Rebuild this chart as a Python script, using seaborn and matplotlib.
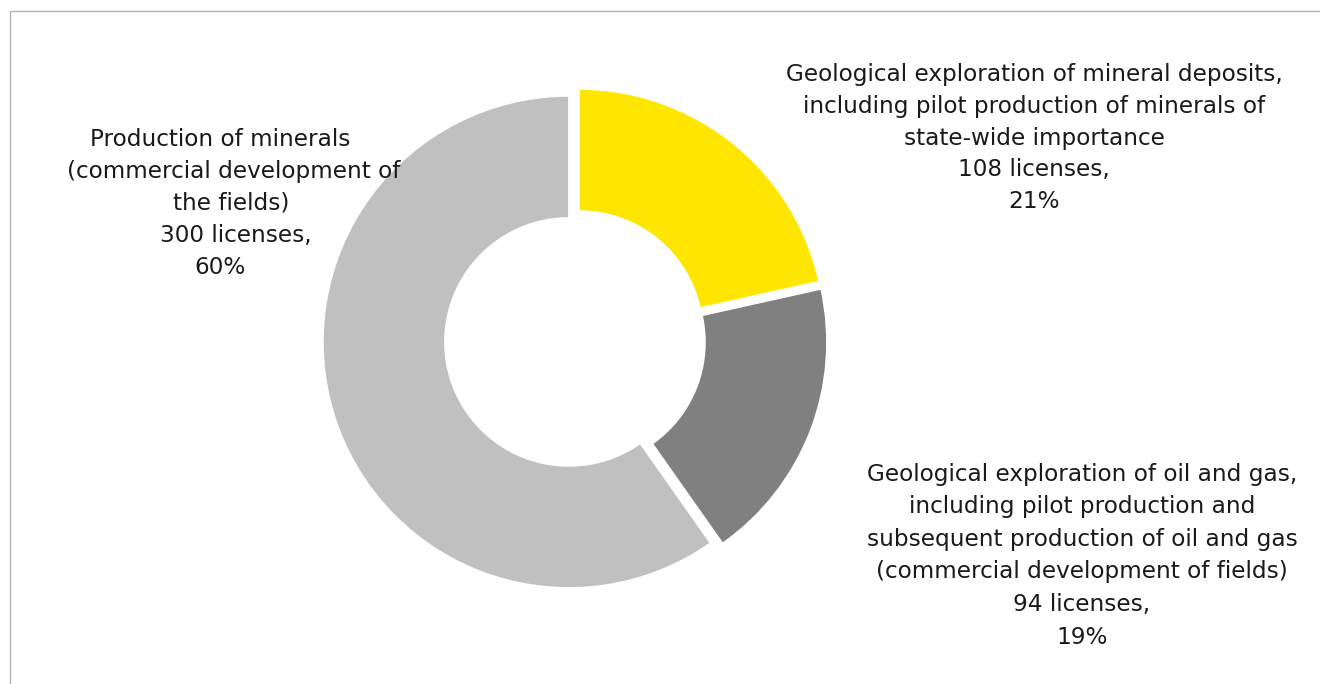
import matplotlib
matplotlib.use("Agg")
import matplotlib.pyplot as plt
from matplotlib.patches import Rectangle
import seaborn as sns

# ---- data ----
categories = [
    "Geological exploration of mineral deposits,\nincluding pilot production of minerals of\nstate-wide importance",
    "Geological exploration of oil and gas,\nincluding pilot production and\nsubsequent production of oil and gas\n(commercial development of fields)",
    "Production of minerals\n(commercial development of\nthe fields)",
]
licenses = [108, 94, 300]
percents = [21, 19, 60]
colors = ["#FFE600", "#808080", "#C0C0C0"]

sns.set_theme(style="white")
plt.rcParams["font.family"] = ["DejaVu Sans"]

W, H = 1320, 684
fig = plt.figure(figsize=(W / 100, H / 100), dpi=100)
fig.patch.set_facecolor("white")

# pie geometry in pixels
CX, CY, R = 575, 340, 246
ax = fig.add_axes([0, 0, 1, 1])
ax.pie(licenses, colors=colors, startangle=90, counterclock=False,
       explode=[0.026] * len(licenses), radius=1.0,
       wedgeprops=dict(width=0.496, edgecolor="white", linewidth=1.2))
ax.set_aspect("auto")
ax.set_xlim(-CX / R, (W - CX) / R)
ax.set_ylim(-(H - CY) / R, CY / R)
ax.axis("off")

# frame border (top and left visible)
fig.add_artist(Rectangle((9.5 / W, -0.1), 1.2, (H - 11.5) / H + 0.1,
                         transform=fig.transFigure, fill=False,
                         edgecolor="#B4B4B4", linewidth=1.0))

# fit font size to measured width of the widest label line
renderer = fig.canvas.get_renderer()
probe = fig.text(0, 0, "Geological exploration of mineral deposits,", fontsize=10)
w10 = probe.get_window_extent(renderer).width
probe.remove()
fs = 10 * 496 / w10

labels = [f"{c}\n{n} licenses,\n{p}%" for c, n, p in zip(categories, licenses, percents)]

# label layouts: (center x px, first line y px, line step px)
layout = [
    (1034, 75, 31.6),
    (1082, 474, 32.6),
    (None, 139, 32.2),
]
left_centers = [220, 234, 231, 236, 220]

for i, (lab, (cx, y0, step)) in enumerate(zip(labels, layout)):
    lines = lab.split("\n")
    for j, line in enumerate(lines):
        x = cx if cx is not None else left_centers[j]
        fig.text(x / W, 1 - (y0 + j * step) / H, line, ha="center", va="center",
                 fontsize=fs, color="#1a1a1a")

fig.savefig("out.png", dpi=100, facecolor="white")
